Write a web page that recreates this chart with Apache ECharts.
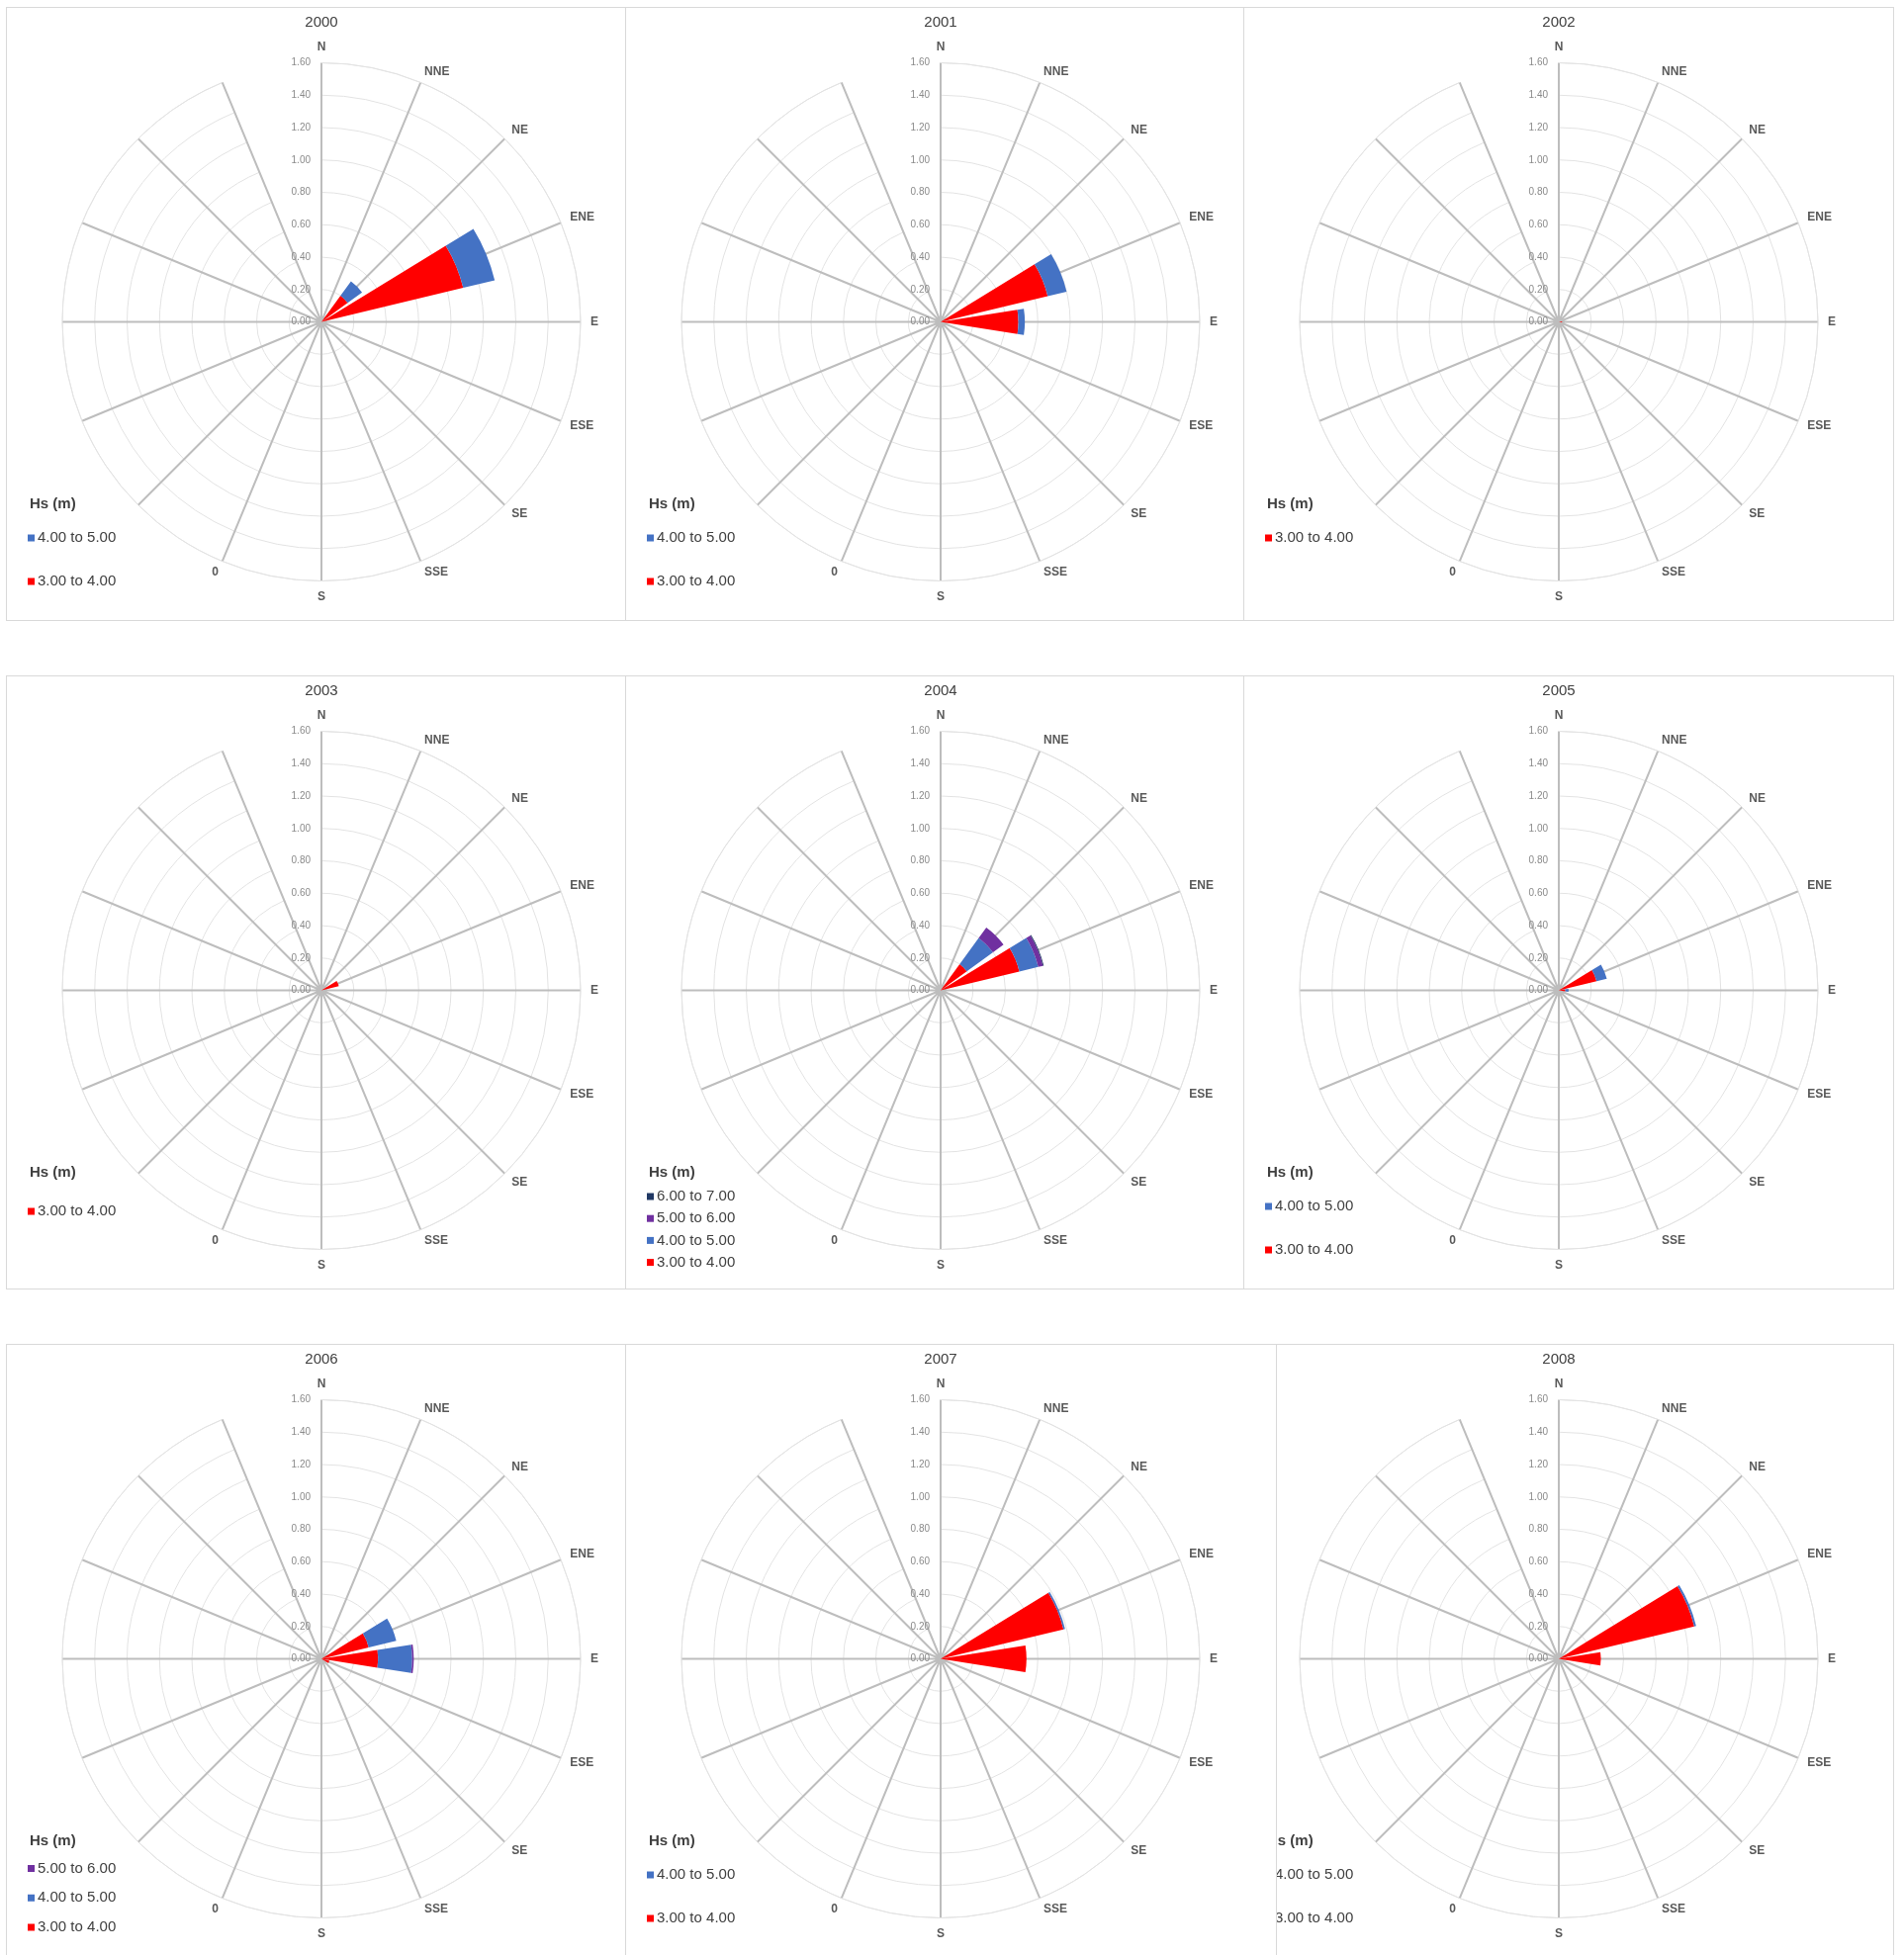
<!DOCTYPE html>
<html>
<head>
<meta charset="utf-8">
<title>Wave rose by year, Hs (m)</title>
<script src="https://cdn.jsdelivr.net/npm/echarts@6/dist/echarts.min.js"></script>
<style>
  html, body { margin: 0; padding: 0; background: #ffffff; }
  #page { position: relative; width: 1925px; height: 1977px; overflow: hidden; background: #ffffff; }
  .box { position: absolute; border: 1px solid #d9d9d9; box-sizing: border-box; overflow: hidden; background: #ffffff; }
  .chart { position: absolute; width: 638px; height: 620px; }
</style>
</head>
<body>
<div id="page"></div>
<script>
// ---- Directions (angle categories) and what is printed next to each spoke ----
const directions = ['N', 'NNE', 'NE', 'ENE', 'E', 'ESE', 'SE', 'SSE',
                    'S', 'SSW', 'SW', 'WSW', 'W', 'WNW', 'NW', 'NNW'];
const directionLabels = ['N', 'NNE', 'NE', 'ENE', 'E', 'ESE', 'SE', 'SSE',
                         'S', '0', '', '', '', '', '', ''];

// ---- Wave height classes ----
const hsBins = ['3.00 to 4.00', '4.00 to 5.00', '5.00 to 6.00', '6.00 to 7.00'];

// ---- Radial scale ----
const radiusMax = 1.6;
const radiusStep = 0.2;

// ---- Values per year, one array per Hs class, in direction order ----
//                  N  NNE   NE    ENE   E     ESE  SE SSE S SSW SW WSW W WNW NW NNW
const y2000_hs3 = [0, 0, 0.20, 0.90, 0,    0,   0, 0, 0, 0, 0, 0, 0, 0, 0, 0];
const y2000_hs4 = [0, 0, 0.11, 0.20, 0,    0,   0, 0, 0, 0, 0, 0, 0, 0, 0, 0];

const y2001_hs3 = [0, 0, 0,    0.68, 0.48, 0,   0, 0, 0, 0, 0, 0, 0, 0, 0, 0];
const y2001_hs4 = [0, 0, 0,    0.12, 0.04, 0,   0, 0, 0, 0, 0, 0, 0, 0, 0, 0];

const y2002_hs3 = [0, 0, 0,    0,    0.02, 0,   0, 0, 0, 0, 0, 0, 0, 0, 0, 0];

const y2003_hs3 = [0, 0, 0,    0.11, 0,    0,   0, 0, 0, 0, 0, 0, 0, 0, 0, 0];

const y2004_hs3 = [0, 0, 0.20, 0.50, 0,    0,   0, 0, 0, 0, 0, 0, 0, 0, 0, 0];
const y2004_hs4 = [0, 0, 0.20, 0.12, 0,    0,   0, 0, 0, 0, 0, 0, 0, 0, 0, 0];
const y2004_hs5 = [0, 0, 0.08, 0.03, 0,    0,   0, 0, 0, 0, 0, 0, 0, 0, 0, 0];
const y2004_hs6 = [0, 0, 0,    0.005,0,    0,   0, 0, 0, 0, 0, 0, 0, 0, 0, 0];

const y2005_hs3 = [0, 0, 0,    0.24, 0.04, 0,   0, 0, 0, 0, 0, 0, 0, 0, 0, 0];
const y2005_hs4 = [0, 0, 0,    0.065,0.02, 0,   0, 0, 0, 0, 0, 0, 0, 0, 0, 0];

const y2006_hs3 = [0, 0, 0,    0.30, 0.35, 0.05,0, 0, 0, 0, 0, 0, 0, 0, 0, 0];
const y2006_hs4 = [0, 0, 0,    0.175,0.21, 0,   0, 0, 0, 0, 0, 0, 0, 0, 0, 0];
const y2006_hs5 = [0, 0, 0,    0,    0.01, 0,   0, 0, 0, 0, 0, 0, 0, 0, 0, 0];

const y2007_hs3 = [0, 0, 0,    0.78, 0.53, 0,   0, 0, 0, 0, 0, 0, 0, 0, 0, 0];
const y2007_hs4 = [0, 0, 0,    0.01, 0,    0,   0, 0, 0, 0, 0, 0, 0, 0, 0, 0];

const y2008_hs3 = [0, 0, 0,    0.86, 0.26, 0,   0, 0, 0, 0, 0, 0, 0, 0, 0, 0];
const y2008_hs4 = [0, 0, 0,    0.012,0,    0,   0, 0, 0, 0, 0, 0, 0, 0, 0, 0];

// Each year lists its Hs classes from the lowest upward (stacking order).
const years = [
  { year: '2000', values: [y2000_hs3, y2000_hs4] },
  { year: '2001', values: [y2001_hs3, y2001_hs4] },
  { year: '2002', values: [y2002_hs3] },
  { year: '2003', values: [y2003_hs3] },
  { year: '2004', values: [y2004_hs3, y2004_hs4, y2004_hs5, y2004_hs6] },
  { year: '2005', values: [y2005_hs3, y2005_hs4] },
  { year: '2006', values: [y2006_hs3, y2006_hs4, y2006_hs5] },
  { year: '2007', values: [y2007_hs3, y2007_hs4] },
  { year: '2008', values: [y2008_hs3, y2008_hs4] }
];

// ---- Styling and page layout ----
const hsColors = ['#FF0000', '#4472C4', '#7030A0', '#203864'];
const FONT = "'Liberation Sans', Arial, sans-serif";

// Frame boxes (page pixels) and where each chart's own drawing area starts.
const rowTops = [7, 683, 1359];
const rowHeights = [621, 621, 619];
const frames = [
  { box: [6, 627],    chartLeft: 6,    legendShift: 0 },
  { box: [632, 626],  chartLeft: 632,  legendShift: 0 },
  { box: [1257, 658], chartLeft: 1257, legendShift: 0 },
  { box: [6, 627],    chartLeft: 6,    legendShift: 5 },
  { box: [632, 626],  chartLeft: 632,  legendShift: 0 },
  { box: [1257, 658], chartLeft: 1257, legendShift: 0 },
  { box: [6, 627],    chartLeft: 6,    legendShift: 0 },
  { box: [632, 659],  chartLeft: 632,  legendShift: 0 },
  { box: [1290, 625], chartLeft: 1257, legendShift: 0 }
];

// Legend placement for a given number of entries: [top, itemGap]
const legendSpacing = {
  1: [529, 28],
  2: [529, 28],
  3: [522.5, 13.75],
  4: [519, 6.2]
};

// Spoke labels sitting diagonally are pulled in towards the ring
const diagonalLabels = ['NNE', 'NE', 'ENE', 'ESE', 'SE', 'SSE', 'SSW'];

function buildOption(entry, frame) {
  const series = entry.values.map(function (vals, i) {
    return {
      name: hsBins[i],
      type: 'bar',
      coordinateSystem: 'polar',
      stack: 'hs',
      data: vals,
      barCategoryGap: '20%',
      silent: true,
      itemStyle: { color: hsColors[i] }
    };
  });
  const legendNames = entry.values.map(function (_, i) { return hsBins[i]; }).reverse();
  const lg = legendSpacing[legendNames.length];

  return {
    animation: false,
    backgroundColor: 'transparent',
    textStyle: { fontFamily: FONT },
    title: [
      {
        text: entry.year, left: 'center', top: 8.5, padding: 0,
        textStyle: { fontSize: 15, fontWeight: 'normal', color: '#404040', fontFamily: FONT }
      },
      {
        text: 'Hs (m)', left: 24, top: 495, padding: 0,
        textStyle: { fontSize: 15, fontWeight: 'bold', color: '#404040', fontFamily: FONT }
      }
    ],
    legend: {
      orient: 'vertical', left: 22, top: lg[0] + frame.legendShift, itemGap: lg[1],
      itemWidth: 7, itemHeight: 7, icon: 'rect', padding: 0,
      selectedMode: false, data: legendNames,
      textStyle: { fontSize: 15, color: '#404040', lineHeight: 16, fontFamily: FONT, padding: [0, 0, 0, -2] }
    },
    polar: { center: ['50%', 318.5], radius: 262 },
    angleAxis: {
      type: 'category',
      data: directions,
      boundaryGap: false,
      startAngle: 90,
      clockwise: true,
      axisLine: { show: true, lineStyle: { color: '#e3e3e3', width: 1 } },
      axisTick: { show: false, interval: 0 },
      splitLine: { show: true, interval: 0, lineStyle: { color: '#bdbdbd', width: 2 } },
      axisLabel: {
        interval: 0, margin: 10,
        fontSize: 12, fontWeight: 'bold', color: '#595959', fontFamily: FONT,
        formatter: function (value) {
          const text = directionLabels[directions.indexOf(value)];
          if (!text) return '';
          return diagonalLabels.indexOf(value) >= 0 ? '{d|' + text + '}' : text;
        },
        rich: {
          d: { fontSize: 12, fontWeight: 'bold', color: '#595959', fontFamily: FONT, lineHeight: 3 }
        }
      }
    },
    radiusAxis: {
      type: 'value',
      min: 0, max: radiusMax, interval: radiusStep,
      axisLine: { show: false },
      axisTick: { show: false },
      splitLine: { show: true, lineStyle: { color: '#e3e3e3', width: 1 } },
      axisLabel: {
        margin: 11, fontSize: 10, color: '#8a8a8a', fontFamily: FONT,
        formatter: function (v) { return v.toFixed(2); }
      }
    },
    series: series
  };
}

const page = document.getElementById('page');
years.forEach(function (entry, idx) {
  const row = Math.floor(idx / 3);
  const f = frames[idx];
  const box = document.createElement('div');
  box.className = 'box';
  box.style.left = f.box[0] + 'px';
  box.style.width = f.box[1] + 'px';
  box.style.top = rowTops[row] + 'px';
  box.style.height = rowHeights[row] + 'px';
  page.appendChild(box);

  const el = document.createElement('div');
  el.className = 'chart';
  el.style.left = (f.chartLeft - f.box[0] - 1) + 'px';
  el.style.top = '-1px';
  box.appendChild(el);

  const chart = echarts.init(el, null, { renderer: 'canvas' });
  chart.setOption(buildOption(entry, f));
});
</script>
</body>
</html>
